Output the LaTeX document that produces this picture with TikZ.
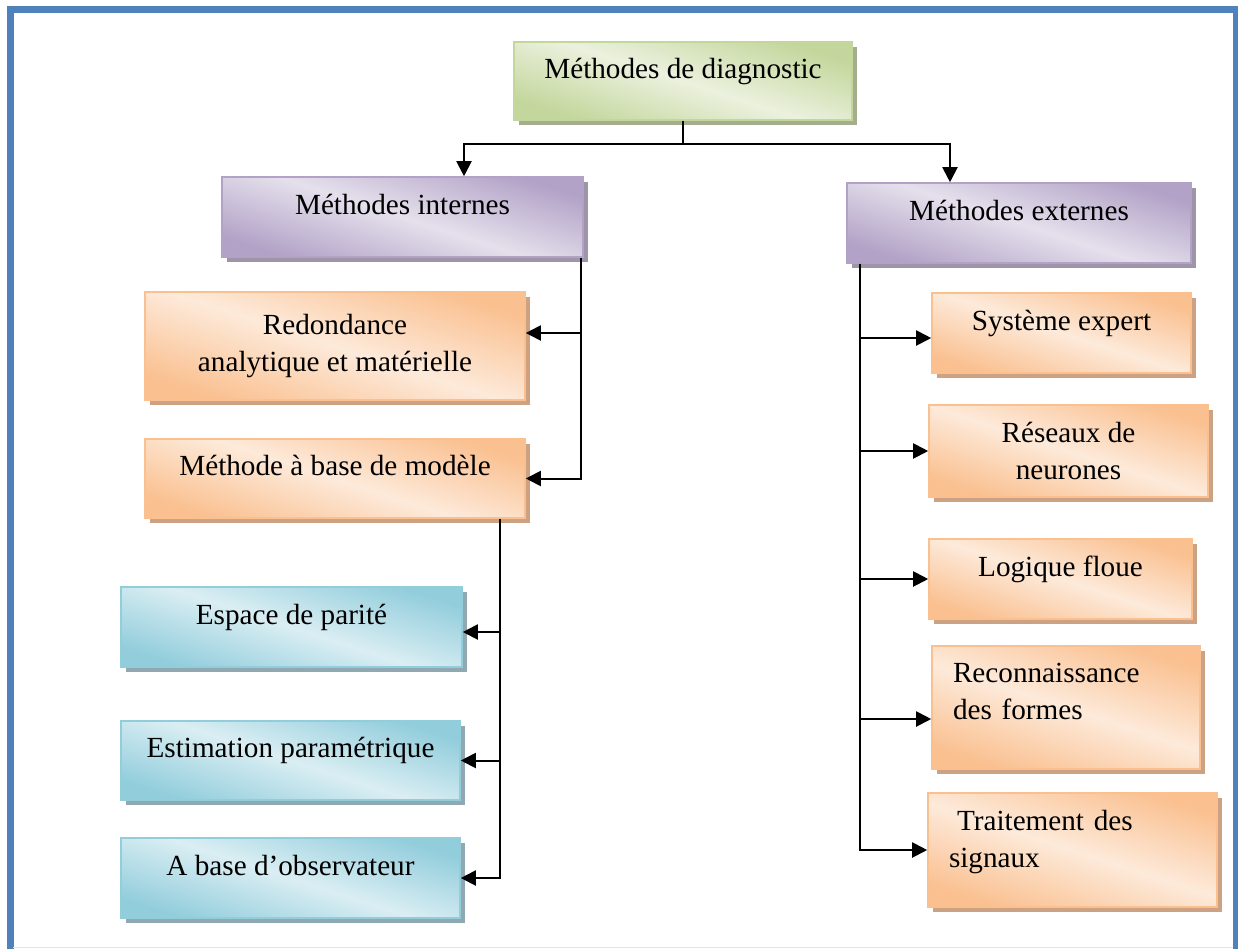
\documentclass[tikz,border=0pt]{standalone}
\usepackage{fontspec}
\setmainfont{Liberation Serif}
\usetikzlibrary{arrows.meta, shadows}
\definecolor{pageblue}{HTML}{4F81BD}
\definecolor{pagelight}{HTML}{DCE6F2}
\definecolor{greendark}{HTML}{C3D69B}
\definecolor{greenlight}{HTML}{EBF1DE}
\definecolor{greenshade}{HTML}{A4AE8E}
\definecolor{purpledark}{HTML}{B2A2C7}
\definecolor{purplelight}{HTML}{E5E0EC}
\definecolor{purpleshade}{HTML}{9E96A8}
\definecolor{orangedark}{HTML}{FAC090}
\definecolor{orangelight}{HTML}{FDEADA}
\definecolor{orangeshade}{HTML}{CDA283}
\definecolor{bluedark}{HTML}{92CDDC}
\definecolor{bluelight}{HTML}{DAEEF3}
\definecolor{blueshade}{HTML}{8FA8B1}
\tikzset{
  every picture/.style={line width=0.8pt},
  every node/.style={font=\fontsize{14.6}{18.5}\selectfont},
  box/.style={rectangle, inner sep=0pt, line width=0.8pt, text height=9pt, text depth=12pt},
  multi/.style={text height=, text depth=},
  greenbox/.style={box, draw=greendark, top color=greendark, bottom color=greendark, middle color=greenlight, shading angle=-18,
    drop shadow={shadow xshift=2.5pt, shadow yshift=-2.5pt, fill=greenshade, opacity=1}},
  purplebox/.style={box, draw=purpledark, top color=purpledark, bottom color=purpledark, middle color=purplelight, shading angle=-18,
    drop shadow={shadow xshift=2.5pt, shadow yshift=-2.5pt, fill=purpleshade, opacity=1}},
  orangebox/.style={box, draw=orangedark, top color=orangedark, bottom color=orangedark, middle color=orangelight, shading angle=-18,
    drop shadow={shadow xshift=2.5pt, shadow yshift=-2.5pt, fill=orangeshade, opacity=1}},
  bluebox/.style={box, draw=bluedark, top color=bluedark, bottom color=bluedark, middle color=bluelight, shading angle=-18,
    drop shadow={shadow xshift=2.5pt, shadow yshift=-2.5pt, fill=blueshade, opacity=1}},
  link/.style={line width=1pt, -{Triangle[length=7.5pt, width=7.5pt]}}
}

\begin{document}
\begin{tikzpicture}[x=0.5pt, y=-0.5pt]
  \useasboundingbox (0,0) rectangle (1238,949);
  \draw[pageblue, line width=3.5pt] (10,949) -- (10,9) -- (1236,9) -- (1236,949);
  \draw[pagelight, line width=0.8pt] (13,947.5) -- (1233,947.5);

  \node [greenbox, minimum width=169pt, minimum height=39pt] (diag) at (683,81) {Méthodes de diagnostic};
  \node [purplebox, minimum width=180.5pt, minimum height=40pt] (int) at (402.5,217) {Méthodes internes};
  \node [purplebox, minimum width=172pt, minimum height=40pt] (ext) at (1019,223) {Méthodes externes};

  \node [orangebox, multi, align=center, minimum width=190pt, minimum height=54pt] (redo) at (335,346) {Redondance\\analytique et matérielle};
  \node [orangebox, minimum width=190pt, minimum height=39.5pt] (modele) at (335,478.5) {Méthode à base de modèle};
  \node [bluebox, minimum width=170.5pt, minimum height=40pt] (parite) at (291.5,627) {Espace de parité};
  \node [bluebox, minimum width=169.5pt, minimum height=39.5pt] (estim) at (290.5,760.5) {Estimation paramétrique};
  \node [bluebox, minimum width=169.5pt, minimum height=40pt] (obs) at (290.5,878) {A base d’observateur};

  \node [orangebox, minimum width=129.5pt, minimum height=40pt] (expert) at (1061.5,333) {Système expert};
  \node [orangebox, multi, align=center, minimum width=139.5pt, minimum height=46pt] (neur) at (1068.5,451) {Réseaux de\\neurones};
  \node [orangebox, minimum width=131.5pt, minimum height=40pt] (floue) at (1060.5,579) {Logique floue};
  \node [orangebox, multi, inner xsep=10.5pt, text width=113pt, align=left, text depth=34.5pt, minimum height=61.5pt] (formes) at (1066,707.5) {Reconnaissance\\des formes};
  \node [orangebox, multi, inner xsep=10.5pt, text width=123.5pt, align=left, text depth=30pt, minimum height=57pt] (signaux) at (1072.5,850) {\hspace*{4pt}Traitement des\\signaux};

  \coordinate (lsplit) at (464,144);
  \coordinate (rsplit) at (950,144);
  \draw[link] (diag.south) |- (lsplit) -- (int.north -| lsplit);
  \draw[link] (diag.south) |- (rsplit) -- (ext.north -| rsplit);

  \coordinate (ibus) at ([xshift=-1.5pt]int.south east);
  \draw[link] (ibus) |- ([yshift=6.5pt]redo.east);
  \draw[link] (ibus) |- (modele.east);

  \coordinate (mbus) at ([xshift=-13pt]modele.south east);
  \draw[link] (mbus) |- ([yshift=-2.5pt]parite.east);
  \draw[link] (mbus) |- (estim.east);
  \draw[link] (mbus) |- (obs.east);

  \coordinate (ebus) at ([xshift=7pt]ext.south west);
  \draw[link] (ebus) |- ([yshift=-2.5pt]expert.west);
  \draw[link] (ebus) |- (neur.west);
  \draw[link] (ebus) |- (floue.west);
  \draw[link] (ebus) |- ([yshift=-5.75pt]formes.west);
  \draw[link] (ebus) |- (signaux.west);
\end{tikzpicture}
\end{document}
